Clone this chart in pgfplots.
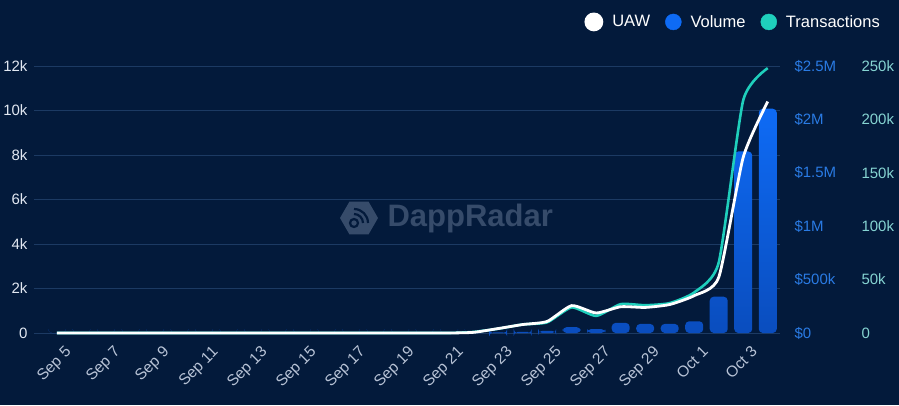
\documentclass[border=0pt]{standalone}
\usepackage{pgfplots}
\pgfplotsset{compat=1.18}
\usepackage{fontspec}
\setmainfont{Liberation Sans}
\usetikzlibrary{shapes.geometric}
\definecolor{bgc}{HTML}{031A3B}
\definecolor{gridc}{HTML}{1C3A63}
\definecolor{leftc}{HTML}{E2E8F2}
\definecolor{xlabc}{HTML}{B8C3D6}
\definecolor{volc}{HTML}{2A7BE4}
\definecolor{trc}{HTML}{86D4D2}
\definecolor{teal}{HTML}{1FCFBC}
\definecolor{barTop}{HTML}{0E6BF5}
\definecolor{barBot}{HTML}{0A4DBE}
\definecolor{wmc}{HTML}{364B6A}
\pgfplotsset{
  base/.style={scale only axis, width=736pt, height=267pt, at={(44pt,72pt)}, anchor=south west,
    xmin=-0.53, xmax=29.5, axis line style={draw=none}, clip=false,
    scaled y ticks=false, scaled x ticks=false,
    tick label style={font=\fontsize{15}{18}\selectfont}},
}
\pgfplotstableread{
x uaw tr vol
0 0 0 0
1 0 0 0
2 0 0 0
3 0 0 0
4 0 0 0
5 0 0 0
6 0 0 0
7 0 0 0
8 0 0 0
9 0 0 0
10 0 0 0
11 0 0 0
12 0 0 0
13 0 0 0
14 0 0 0
15 0 0 0
16 0 0 0
17 30 1000 0
18 200 4000 5000
19 380 8000 10000
20 520 10000 20000
21 1230 24000 55000
22 900 16000 37000
23 1180 27000 95000
24 1150 26000 85000
25 1280 28000 85000
26 1680 38000 110000
27 2500 66000 340000
28 7900 218000 1700000
29 10400 248000 2100000
}\datatable
\begin{document}
\begin{tikzpicture}
\fill[bgc] (0,0) rectangle (899pt,405pt);
% watermark
\node[regular polygon, regular polygon sides=6, minimum size=38pt, fill=wmc, inner sep=0pt] (hx) at (359pt,187pt) {};
\draw[bgc, line width=2.2pt] (hx.center) ++(-5pt,-5pt) circle (4pt);
\draw[bgc, line width=2.2pt] (hx.center) ++(-5pt,-5pt) ++(0,9pt) arc (90:0:9pt);
\draw[bgc, line width=2.2pt] (hx.center) ++(-5pt,-5pt) ++(0,14pt) arc (90:0:14pt);
\node[anchor=west, text=wmc, font=\fontsize{31}{34}\selectfont\bfseries] at (384pt,187pt) {DappRadar};
% left axis with grid
\begin{axis}[base,
  ymin=0, ymax=12000,
  ytick={0,2000,4000,6000,8000,10000,12000},
  yticklabels={0,2k,4k,6k,8k,10k,12k},
  ymajorgrids, grid style={gridc, line width=0.8pt},
  ytick pos=left, xtick pos=bottom,
  tick align=outside, major tick length=10pt,
  ytick style={gridc, line width=0.8pt},
  xtick style={draw=none},
  yticklabel style={text=leftc, xshift=-3pt},
  xtick={0,2,...,28},
  xticklabels={Sep 5,Sep 7,Sep 9,Sep 11,Sep 13,Sep 15,Sep 17,Sep 19,Sep 21,Sep 23,Sep 25,Sep 27,Sep 29,Oct 1,Oct 3},
  xticklabel style={rotate=45, anchor=north east, text=xlabc, xshift=7pt, yshift=-3pt, font=\fontsize{15.5}{18}\selectfont},
]
\addplot[draw=none] coordinates {(0,0)};
\end{axis}
% volume axis
\begin{axis}[base,
  ymin=0, ymax=2500000,
  ytick={0,500000,1000000,1500000,2000000,2500000},
  yticklabels={\$0,\$500k,\$1M,\$1.5M,\$2M,\$2.5M},
  ytick pos=right, yticklabel pos=right, major tick length=0pt,
  yticklabel style={text=volc, xshift=11pt},
  hide x axis,
]
\addplot[ybar, bar width=18pt, draw=none, rounded corners=4pt, top color=barTop, bottom color=barBot] table[x=x, y=vol] {\datatable};
\end{axis}
% transactions axis
\begin{axis}[base,
  ymin=0, ymax=250000,
  ytick={0,50000,100000,150000,200000,250000},
  yticklabels={0,50k,100k,150k,200k,250k},
  ytick pos=right, yticklabel pos=right, major tick length=0pt,
  yticklabel style={text=trc, xshift=78pt},
  hide x axis,
]
\addplot[teal, line width=2.6pt, smooth, tension=0.35] table[x=x, y=tr] {\datatable};
\end{axis}
% UAW axis
\begin{axis}[base,
  ymin=0, ymax=12000, hide axis,
  legend columns=-1,
  legend style={at={(1.1427,1.165)}, anchor=east, draw=none, fill=none,
    text=white, font=\fontsize{16.5}{20}\selectfont,
    /tikz/every odd column/.append style={column sep=7pt},
    /tikz/every even column/.append style={column sep=13pt}},
]
\addplot[white, line width=2.8pt, smooth, tension=0.35,
  legend image code/.code={\fill[white] (4pt,0pt) circle (8pt);}] table[x=x, y=uaw] {\datatable};
\addlegendimage{legend image code/.code={\fill[barTop] (4pt,0pt) circle (8pt);}}
\addlegendimage{legend image code/.code={\fill[teal] (4pt,0pt) circle (8pt);}}
\legend{UAW,Volume,Transactions}
\end{axis}
\pgfresetboundingbox
\useasboundingbox (0,0) rectangle (899pt,405pt);
\end{tikzpicture}
\end{document}
